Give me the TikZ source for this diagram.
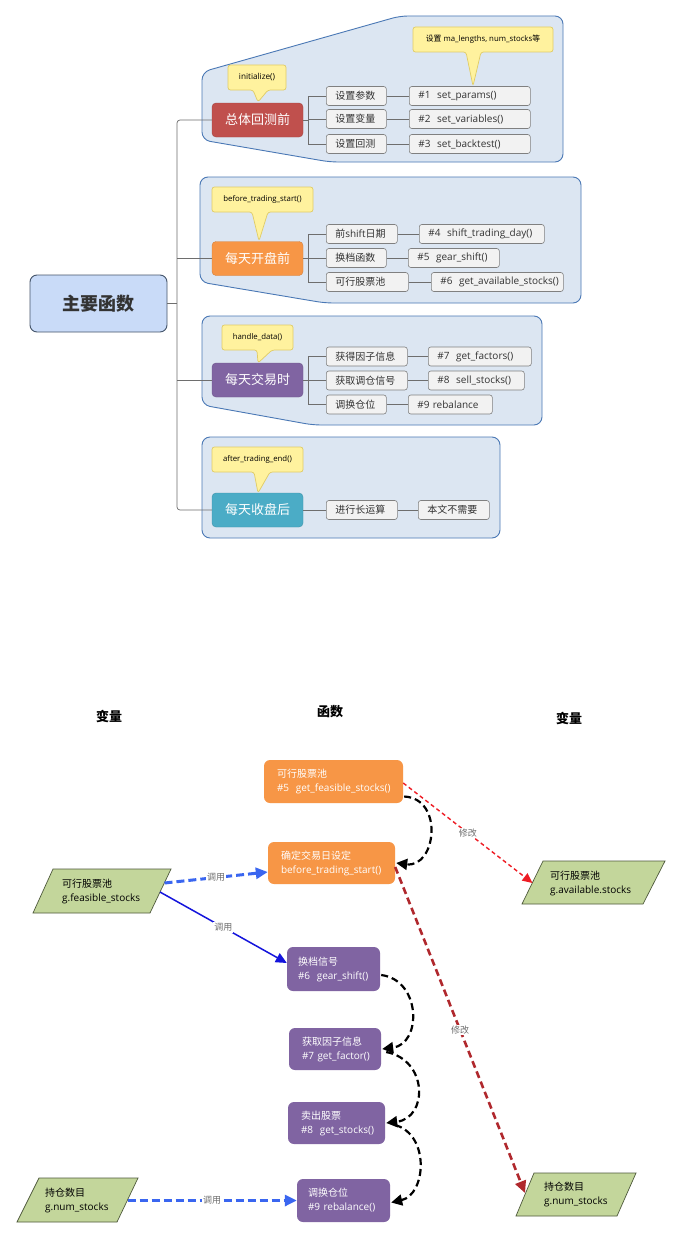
\documentclass[tikz,border=0pt]{standalone}
\usepackage{fontspec}
\setmainfont{Open Sans}
\newfontfamily\cjk{Noto Sans CJK SC}
\newcommand\zh[1]{{\cjk #1}}
\usetikzlibrary{arrows.meta,calc}

\definecolor{grpfill}{HTML}{DCE6F2}
\definecolor{grpline}{HTML}{4A78B5}
\definecolor{rootfill}{HTML}{C9DBF8}
\definecolor{rootline}{HTML}{44546A}
\definecolor{catred}{HTML}{C0504D}
\definecolor{catorange}{HTML}{F79646}
\definecolor{catpurple}{HTML}{8064A2}
\definecolor{catteal}{HTML}{4BACC6}
\definecolor{leaffill}{HTML}{F2F2F2}
\definecolor{leafline}{HTML}{808080}
\definecolor{notefill}{HTML}{FFF29E}
\definecolor{noteline}{HTML}{E0CC66}
\definecolor{varfill}{HTML}{C3D69B}
\definecolor{varline}{HTML}{4F5A3C}
\definecolor{callblue}{HTML}{3A66F0}
\definecolor{solidblue}{HTML}{1414DC}
\definecolor{modred}{HTML}{EE1C24}
\definecolor{moddark}{HTML}{B0282D}
\definecolor{treeline}{HTML}{6E6E6E}
\definecolor{textdark}{HTML}{333333}

\tikzset{
  grp/.style={fill=grpfill, draw=grpline, line width=0.9pt, rounded corners=8pt},
  rootbox/.style={fill=rootfill, draw=rootline, line width=0.9pt, rounded corners=7pt,
    minimum width=137pt, minimum height=57pt, inner sep=0pt, text=textdark,
    font=\cjk\bfseries\fontsize{18}{20}\selectfont},
  cat/.style={fill=#1, draw=#1!85!black, line width=0.4pt, rounded corners=4pt,
    minimum width=91pt, minimum height=34pt, inner sep=0pt, text=white,
    font=\cjk\fontsize{13}{15}\selectfont},
  subbox/.style={fill=leaffill, draw=leafline, line width=0.6pt, rounded corners=2.5pt,
    anchor=west, minimum height=19pt, inner xsep=9pt, inner ysep=0pt, align=left,
    text=textdark, font=\fontsize{10}{12}\selectfont},
  note/.style={fill=notefill, draw=noteline, line width=0.7pt, rounded corners=2.5pt},
  notetext/.style={inner sep=0pt, text=black, font=\fontsize{7.8}{9}\selectfont},
  tree/.style={draw=treeline, line width=0.7pt},
  fnbox/.style={fill=#1, rounded corners=6pt, inner ysep=0pt, align=left, text=white,
    font=\fontsize{10}{14}\selectfont},
  varshape/.style={fill=varfill, draw=varline, line width=0.7pt},
  vartext/.style={anchor=west, inner sep=0pt, align=left, text=black,
    font=\fontsize{10}{14}\selectfont},
  hdr/.style={inner sep=0pt, text=black, font=\cjk\bfseries\fontsize{13}{15}\selectfont},
  lbl/.style={fill=white, inner sep=1pt, text=gray!85!black, font=\cjk\fontsize{9}{10}\selectfont},
  blk/.style={draw=black, line width=2.2pt, dash pattern=on 7pt off 4pt,
    -{Triangle[length=11pt,width=11pt]}},
  calldash/.style={draw=callblue, line width=3pt, dash pattern=on 8pt off 4pt,
    -{Triangle[length=12pt,width=11pt]}},
  callsolid/.style={draw=solidblue, line width=1.5pt, -{Triangle[length=11pt,width=10pt]}},
  modthin/.style={draw=modred, line width=1.4pt, dash pattern=on 4pt off 3pt,
    -{Triangle[length=10pt,width=9pt]}},
  modthick/.style={draw=moddark, line width=2.6pt, dash pattern=on 7pt off 4pt,
    -{Triangle[length=12pt,width=11pt]}}
}

\begin{document}
\begin{tikzpicture}[x=1pt,y=-1pt]
\useasboundingbox (0,0) rectangle (682,1239);
\fill[white] (0,0) rectangle (682,1239);

% ---------------- main function map ----------------
% group panels
\draw[grp] (202,140) -- (202,72) -- (400,16) -- (563,16) -- (563,162) -- (330,162) -- cycle;
\draw[grp] (200,282) -- (200,177) -- (581,177) -- (581,303) -- (325,303) -- cycle;
\draw[grp] (202,405) -- (202,316) -- (542,316) -- (542,425) -- (313,425) -- cycle;
\draw[grp] (202,437) rectangle (500,538);

% root and the four stages
\node[rootbox] (root) at (98.5,303.5) {主要函数};
\node[cat=catred]    (c1) at (257.5,120)   {总体回测前};
\node[cat=catorange] (c2) at (257.5,258.5) {每天开盘前};
\node[cat=catpurple] (c3) at (257.5,380)   {每天交易时};
\node[cat=catteal]   (c4) at (257.5,510)   {每天收盘后};

% trunk
\coordinate (trunk) at (177,0);
\draw[tree] (root.east) -- (root.east -| trunk);
\draw[tree, rounded corners=3pt] (c1.west) -- (c1.west -| trunk) -- (c4.west -| trunk) -- (c4.west);
\draw[tree] (c2.west) -- (c2.west -| trunk);
\draw[tree] (c3.west) -- (c3.west -| trunk);

% stage 1
\node[subbox, text width=42pt]  (s11) at (326,96)  {\mbox{\zh{设置参数}}};
\node[subbox, text width=42pt]  (s12) at (326,119) {\mbox{\zh{设置变量}}};
\node[subbox, text width=42pt]  (s13) at (326,144) {\mbox{\zh{设置回测}}};
\node[subbox, text width=103pt] (l11) at (409,96)  {\mbox{\#1\ \ set\_params()}};
\node[subbox, text width=103pt] (l12) at (409,119) {\mbox{\#2\ \ set\_variables()}};
\node[subbox, text width=103pt] (l13) at (409,144) {\mbox{\#3\ \ set\_backtest()}};

% stage 2
\node[subbox, text width=53pt]  (s21) at (326,234) {\mbox{\zh{前}shift\zh{日期}}};
\node[subbox, text width=42pt]  (s22) at (326,258) {\mbox{\zh{换档函数}}};
\node[subbox, text width=64pt]  (s23) at (326,282) {\mbox{\zh{可行股票池}}};
\node[subbox, text width=107pt] (l21) at (419,234) {\mbox{\#4\ \ shift\_trading\_day()}};
\node[subbox, text width=73pt]  (l22) at (408,258) {\mbox{\#5\ \ gear\_shift()}};
\node[subbox, text width=114pt] (l23) at (431,282) {\mbox{\#6\ \ get\_available\_stocks()}};

% stage 3
\node[subbox, text width=63pt]  (s31) at (326,356.5) {\mbox{\zh{获得因子信息}}};
\node[subbox, text width=63pt]  (s32) at (326,380.5) {\mbox{\zh{获取调仓信号}}};
\node[subbox, text width=42pt]  (s33) at (326,404.5) {\mbox{\zh{调换仓位}}};
\node[subbox, text width=85pt]  (l31) at (428,356.5) {\mbox{\#7\ \ get\_factors()}};
\node[subbox, text width=78pt]  (l32) at (428,380.5) {\mbox{\#8\ \ sell\_stocks()}};
\node[subbox, text width=66pt]  (l33) at (408,404.5) {\mbox{\#9 rebalance}};

% stage 4
\node[subbox, text width=53pt]  (s41) at (326,510) {\mbox{\zh{进行长运算}}};
\node[subbox, text width=53pt]  (l41) at (418,510) {\mbox{\zh{本文不需要}}};

% branches
\coordinate (br) at (308,0);
\draw[tree] (c1.east) -- (c1.east -| br);
\draw[tree] (s11.west) -- (s11.west -| br) -- (s13.west -| br) -- (s13.west);
\draw[tree] (s12.west) -- (s12.west -| br);
\draw[tree] (c2.east) -- (c2.east -| br);
\draw[tree] (s21.west) -- (s21.west -| br) -- (s23.west -| br) -- (s23.west);
\draw[tree] (s22.west) -- (s22.west -| br);
\draw[tree] (c3.east) -- (c3.east -| br);
\draw[tree] (s31.west) -- (s31.west -| br) -- (s33.west -| br) -- (s33.west);
\draw[tree] (s32.west) -- (s32.west -| br);
\draw[tree] (c4.east) -- (s41.west);
\draw[tree] (s11.east) -- (l11.west);
\draw[tree] (s12.east) -- (l12.west);
\draw[tree] (s13.east) -- (l13.west);
\draw[tree] (s21.east) -- (l21.west);
\draw[tree] (s22.east) -- (l22.west);
\draw[tree] (s23.east) -- (l23.west);
\draw[tree] (s31.east) -- (l31.west);
\draw[tree] (s32.east) -- (l32.west);
\draw[tree] (s33.east) -- (l33.west);
\draw[tree] (s41.east) -- (l41.west);

% callouts with the hook names
\draw[note] (228,65) -- (286,65) -- (286,90) -- (268,90) -- (258,102) -- (253,90) -- (228,90) -- cycle;
\node[notetext, font=\fontsize{8.2}{9}\selectfont] (n1) at (257,77.5) {initialize()};
\draw[note] (413,27) -- (553,27) -- (553,52) -- (481,52) -- (473,86) -- (466,52) -- (413,52) -- cycle;
\node[notetext] (n2) at (483,39.5) {\zh{设置} ma\_lengths, num\_stocks\zh{等}};
\draw[note] (212,187) -- (313,187) -- (313,212) -- (268,212) -- (259,241) -- (252,212) -- (212,212) -- cycle;
\node[notetext] (n3) at (262.5,199.5) {before\_trading\_start()};
\draw[note] (222,325) -- (293,325) -- (293,350) -- (272,350) -- (258,363) -- (257,350) -- (222,350) -- cycle;
\node[notetext] (n4) at (257.5,337.5) {handle\_data()};
\draw[note] (212,447) -- (303,447) -- (303,472) -- (270,472) -- (258,493) -- (254,472) -- (212,472) -- cycle;
\node[notetext] (n5) at (257.5,459.5) {after\_trading\_end()};

% ---------------- call / modify flow ----------------
\node[hdr] (h1) at (109,716) {变量};
\node[hdr] (h2) at (330,712) {函数};
\node[hdr] (h3) at (569,718) {变量};

% functions
\node[fnbox=catorange, minimum width=139pt, minimum height=43pt, inner xsep=13pt, text width=113pt]
  (f5) at (333.5,781.5) {\mbox{\zh{可行股票池}}\\\mbox{\#5\ \ get\_feasible\_stocks()}};
\node[fnbox=catorange, minimum width=127pt, minimum height=42pt, inner xsep=13pt, text width=101pt]
  (bts) at (331.5,863) {\mbox{\zh{确定交易日设定}}\\\mbox{before\_trading\_start()}};
\node[fnbox=catpurple, minimum width=93pt, minimum height=44pt, inner xsep=11pt, text width=71pt]
  (g6) at (333.5,969) {\mbox{\zh{换档信号}}\\\mbox{\#6\ \ gear\_shift()}};
\node[fnbox=catpurple, minimum width=92pt, minimum height=42pt, inner xsep=13pt, text width=66pt]
  (g7) at (335,1049) {\mbox{\zh{获取因子信息}}\\\mbox{\#7 get\_factor()}};
\node[fnbox=catpurple, minimum width=97pt, minimum height=42pt, inner xsep=13pt, text width=71pt]
  (g8) at (336.5,1123) {\mbox{\zh{卖出股票}}\\\mbox{\#8\ \ get\_stocks()}};
\node[fnbox=catpurple, minimum width=93pt, minimum height=43pt, inner xsep=11pt, text width=71pt]
  (g9) at (343.5,1200.5) {\mbox{\zh{调换仓位}}\\\mbox{\#9 rebalance()}};

% variables
\draw[varshape] (53,869) -- (171,869) -- (150,913) -- (33,913) -- cycle;
\node[vartext] (v1) at (62,891) {\zh{可行股票池}\\g.feasible\_stocks};
\draw[varshape] (543,861) -- (665,861) -- (643,904) -- (522,904) -- cycle;
\node[vartext] (v2) at (550,883) {\zh{可行股票池}\\g.available.stocks};
\draw[varshape] (39,1178) -- (138,1178) -- (117,1222) -- (17,1222) -- cycle;
\node[vartext] (v3) at (45,1200) {\zh{持仓数目}\\g.num\_stocks};
\draw[varshape] (534,1173) -- (636,1173) -- (617,1216) -- (516,1216) -- cycle;
\node[vartext] (v4) at (544,1194.5) {\zh{持仓数目}\\g.num\_stocks};

% attachment points on the slanted sides
\coordinate (v1a) at (164.5,883);
\coordinate (v1b) at (160,892);
\coordinate (v2in) at (532.5,883);
\coordinate (v3a) at (127.5,1200.5);
\coordinate (v4in) at (525,1193);

% call order
\draw[blk] ($(f5.east)+(1,15)$) .. controls +(40,2) and +(40,5) .. ($(bts.east)+(1,0)$);
\draw[blk] ($(g6.east)+(1,6)$) .. controls +(40,5) and +(40,-5) .. ($(g7.east)+(1,0)$);
\draw[blk] ($(g7.east)+(5,3)$) .. controls +(42,8) and +(42,-5) .. ($(g8.east)+(1,0)$);
\draw[blk] ($(g8.east)+(10,2)$) .. controls +(35,10) and +(35,-8) .. ($(g9.east)+(1,2)$);

% variable access
\draw[modthin] ($(f5.east)+(0,1.5)$) -- node[lbl] {修改} (v2in);
\draw[modthick] ($(bts.east)+(0,4)$) -- node[lbl] {修改} (v4in);
\draw[calldash] (v1a) -- node[lbl] {调用} ($(bts.west)+(0,9)$);
\draw[callsolid] (v1b) -- node[lbl] {调用} ($(g6.west)+(0,-6)$);
\draw[calldash] (v3a) -- node[lbl] {调用} (g9.west);
\end{tikzpicture}
\end{document}
